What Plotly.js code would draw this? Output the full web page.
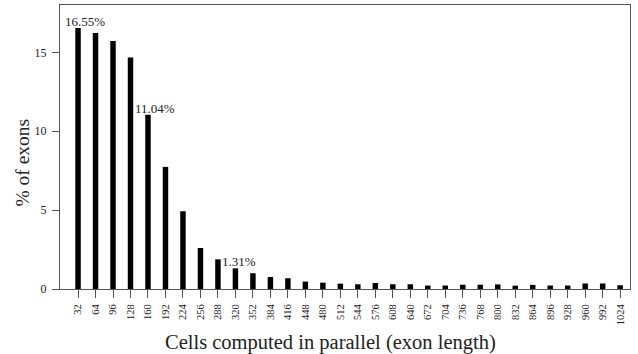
<!DOCTYPE html>
<html><head><meta charset="utf-8">
<script src="https://cdn.plot.ly/plotly-3.0.1.min.js"></script>
<style>html,body{margin:0;padding:0;background:#fff}#c{width:638px;height:354px}</style>
</head><body><div id="c"></div>
<script>
const lengths = [32,64,96,128,160,192,224,256,288,320,352,384,416,448,480,512,544,576,608,640,672,704,736,768,800,832,864,896,928,960,992,1024];
const pctExons = [16.55,16.22,15.72,14.68,11.04,7.74,4.93,2.60,1.88,1.31,1.00,0.76,0.68,0.47,0.40,0.34,0.30,0.38,0.30,0.30,0.22,0.22,0.27,0.27,0.29,0.21,0.26,0.22,0.22,0.35,0.35,0.24];
const labelled = [32,160,320];
const labelText = ["16.55%","11.04%","1.31%"];
const xTitle = "Cells computed in parallel (exon length)";
const yTitle = "% of exons";

const font = "'Liberation Serif', 'Times New Roman', serif";
const annotations = labelled.map((x,i)=>({
  x: x, y: pctExons[lengths.indexOf(x)], xref:'x', yref:'y',
  text: labelText[i], showarrow:false, xanchor:'left', yanchor:'bottom',
  xshift:-15, yshift:-3, font:{family:font,size:13,color:'#222'}
}));
annotations.push({xref:'paper',yref:'paper',x:0.475,y:-0.19,xanchor:'center',yanchor:'middle',
  showarrow:false,text:xTitle,font:{family:font,size:20.5,color:'#222'}});
annotations.push({xref:'paper',yref:'paper',x:-0.065,y:0.445,xanchor:'center',yanchor:'middle',textangle:-90,
  showarrow:false,text:yTitle,font:{family:font,size:19.5,color:'#222'}});

Plotly.newPlot('c',[{
  type:'bar', x:lengths, y:pctExons, width:10,
  marker:{color:'#000', line:{width:0}}, hoverinfo:'none'
}],{
  width:638,height:354,
  margin:{l:60,r:8,t:5,b:64.5},
  paper_bgcolor:'#fff',plot_bgcolor:'#fff',
  showlegend:false,
  font:{family:font,color:'#222'},
  xaxis:{range:[-1,1042],tickvals:lengths,ticktext:lengths.map(String),tickangle:-90,
    ticks:'outside',ticklen:8,tickcolor:'#555',tickwidth:1,ticklabelstandoff:2,
    showline:true,mirror:true,linecolor:'#555',linewidth:1,showgrid:false,zeroline:false,
    tickfont:{family:font,size:10.5,color:'#222'}},
  yaxis:{range:[0,18],tickvals:[0,5,10,15],ticks:'outside',ticklen:7,tickcolor:'#555',ticklabelstandoff:3,
    showline:true,mirror:true,linecolor:'#555',linewidth:1,showgrid:false,zeroline:false,
    tickfont:{family:font,size:12,color:'#222'}},
  annotations:annotations
},{displayModeBar:false,staticPlot:true});
</script></body></html>
